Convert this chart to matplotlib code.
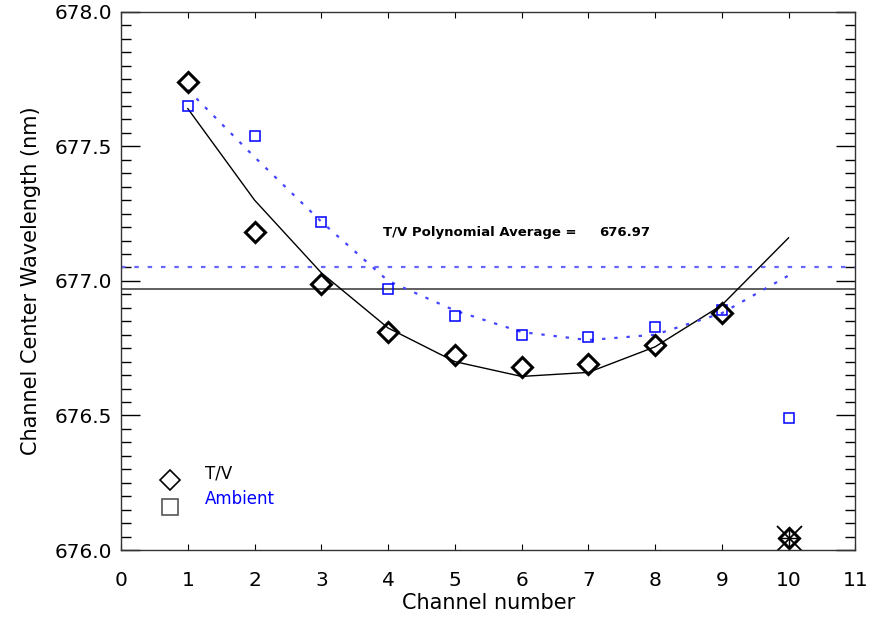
import numpy as np
import matplotlib
matplotlib.use("Agg")
import matplotlib.pyplot as plt
from matplotlib.ticker import MultipleLocator, FormatStrFormatter

# Werte
channels = [1, 2, 3, 4, 5, 6, 7, 8, 9, 10]
tv_vals = [677.74, 677.18, 676.99, 676.81, 676.725, 676.68, 676.69, 676.76, 676.88, 676.045]
amb_vals = [677.65, 677.54, 677.22, 676.97, 676.87, 676.80, 676.79, 676.83, 676.89, 676.49]

tv_fit = [677.64, 677.30, 677.03, 676.825, 676.70, 676.645, 676.66, 676.755, 676.91, 677.16]
amb_fit = [677.71, 677.46, 677.22, 677.00, 676.89, 676.81, 676.78, 676.80, 676.88, 677.02]

tv_avg = 676.97
amb_avg = 677.05
outlier_channel = 10

plt.rcParams['font.family'] = ['DejaVu Sans']

fig = plt.figure(figsize=(8.71, 6.18), dpi=100)
ax = fig.add_axes([0.139, 0.110, 0.843, 0.871])

# Mittelwert-Linien
ax.axhline(tv_avg, color='#444444', lw=1.2)
ax.axhline(amb_avg, color='#6666ff', lw=1.6, ls=(0, (2, 4)))

# Fit-Kurven
ax.plot(channels, tv_fit, color='black', lw=1.0)
ax.plot(channels, amb_fit, color='#4444ff', lw=1.6, ls=(0, (1.5, 4)))

# Messpunkte
ax.plot(channels, amb_vals, ls='none', marker='s', ms=7, mfc='none', mec='#0000ff', mew=1.1)
ax.plot(channels, tv_vals, ls='none', marker='D', ms=10, mfc='none', mec='black', mew=2.2)

# Ausreißer markieren
idx = channels.index(outlier_channel)
ax.plot(outlier_channel, tv_vals[idx], marker='x', ms=18, color='black', mew=1.3)
ax.plot(outlier_channel, tv_vals[idx], marker='+', ms=16, color='black', mew=1.0)

ax.text(3.92, 677.18, 'T/V Polynomial Average =', fontsize=9.5, fontweight='bold',
        ha='left', va='center')
ax.text(7.16, 677.18, f'{tv_avg:.2f}', fontsize=9.5, fontweight='bold',
        ha='left', va='center')

# Legende von Hand
ax.plot(0.73, 676.26, marker='D', ms=10, mfc='none', mec='black', mew=1.2, clip_on=False)
ax.plot(0.73, 676.16, marker='s', ms=12, mfc='none', mec='#555555', mew=1.2, clip_on=False)
ax.text(1.25, 676.285, 'T/V', fontsize=12, color='black', va='center')
ax.text(1.25, 676.19, 'Ambient', fontsize=12, color='#0000ff', va='center')

ax.set_xlim(0, 11)
ax.set_ylim(676.0, 678.0)
ax.xaxis.set_major_locator(MultipleLocator(1))
ax.yaxis.set_major_locator(MultipleLocator(0.5))
ax.yaxis.set_minor_locator(MultipleLocator(0.05))
ax.yaxis.set_major_formatter(FormatStrFormatter('%.1f'))

ax.tick_params(axis='both', which='both', direction='in', top=True, right=True,
               labelsize=14.5, color='black')
ax.tick_params(axis='y', which='major', length=14, width=1.0, pad=6.5)
ax.tick_params(axis='y', which='minor', length=7, width=1.0)
ax.tick_params(axis='x', which='major', length=4, width=0.8, pad=15)

for s in ax.spines.values():
    s.set_color('#333333')
    s.set_linewidth(1.0)

ax.set_xlabel('Channel number', fontsize=15, labelpad=2)
ax.set_ylabel('Channel Center Wavelength (nm)', fontsize=15, labelpad=10)

fig.savefig('out.png', dpi=100)
